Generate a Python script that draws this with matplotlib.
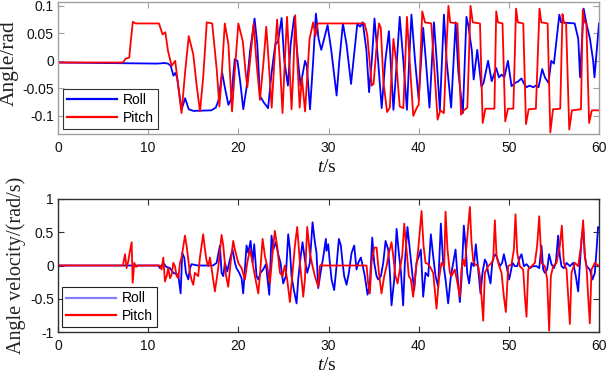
import matplotlib
matplotlib.use("Agg")
import matplotlib.pyplot as plt

plt.rcParams['font.family'] = ['Liberation Sans', 'DejaVu Sans']
plt.rcParams['mathtext.fontset'] = 'custom'
plt.rcParams['mathtext.it'] = 'Liberation Serif:italic'
plt.rcParams['mathtext.rm'] = 'Liberation Serif'

# ---------------- data (t [s], value) ----------------
roll_angle = [
    (0, -0.003), (6, -0.004), (11, -0.005), (11.8, -0.004), (12.2, -0.005), (12.5, -0.009),
    (12.8, -0.027), (13.0, -0.022), (13.2, -0.03), (13.7, -0.089), (14.1, -0.068), (14.5, -0.088),
    (15.0, -0.091), (17.0, -0.09), (17.5, -0.085), (17.8, -0.072), (18.2, -0.021), (18.5, -0.048),
    (18.9, -0.08), (19.2, -0.07), (19.6, 0.003), (19.9, 0.0), (20.2, -0.037), (20.55, -0.088),
    (20.9, -0.05), (21.3, 0.018), (21.8, 0.077), (22.1, 0.03), (22.4, -0.064), (22.8, -0.075),
    (23.3, -0.086), (23.7, -0.02), (24.1, 0.03), (24.4, 0.035), (24.8, 0.078), (25.1, 0.0),
    (25.5, -0.045), (25.8, 0.03), (26.2, 0.08), (26.5, 0.02), (26.9, -0.045), (27.4, 0.0),
    (27.6, -0.01), (27.95, -0.088), (28.3, 0.0), (28.6, 0.086), (28.9, 0.04), (29.2, 0.02),
    (29.9, 0.065), (30.3, 0.02), (30.9, -0.063), (31.2, 0.0), (31.6, 0.068), (32.0, 0.03),
    (32.5, -0.042), (32.9, 0.02), (33.2, 0.068), (33.5, 0.062), (33.8, 0.07), (34.2, 0.02),
    (34.5, -0.057), (34.8, 0.0), (35.1, 0.077), (35.5, 0.0), (35.9, -0.086), (36.3, 0.0),
    (36.7, 0.054), (37.0, -0.03), (37.2, -0.089), (37.5, -0.02), (37.9, 0.08), (38.3, 0.0),
    (38.7, -0.089), (39.0, 0.02), (39.2, 0.084), (39.6, 0.0), (40.0, -0.07), (40.5, 0.06),
    (40.8, 0.0), (41.2, -0.085), (41.7, 0.07), (42.0, 0.0), (42.35, -0.09), (42.8, 0.084),
    (43.1, 0.0), (43.6, -0.085), (44.1, 0.07), (44.4, -0.02), (44.9, -0.095), (45.3, 0.08),
    (45.5, 0.065), (45.9, 0.018), (46.1, -0.034), (46.5, 0.02), (46.96, -0.047), (47.2, -0.04),
    (47.7, 0.0), (48.1, -0.037), (48.6, -0.013), (48.9, -0.03), (49.2, -0.025), (49.5, -0.03),
    (49.9, 0.0), (50.3, -0.046), (50.7, -0.04), (51.0, -0.038), (51.4, -0.032), (51.7, -0.042),
    (51.96, -0.048), (52.3, -0.045), (52.7, -0.048), (53.0, -0.045), (53.3, -0.048), (53.7, -0.015),
    (54.0, -0.03), (54.4, -0.04), (54.7, 0.0), (55.0, -0.005), (55.6, 0.084), (55.8, 0.07),
    (57.3, 0.068), (57.7, 0.04), (57.9, -0.03), (58.3, 0.095), (58.6, 0.068), (59.0, 0.04),
    (59.35, 0.0), (59.5, -0.03), (59.7, 0.01), (60.0, 0.068),
]

pitch_angle = [
    (0, -0.003), (7.2, -0.003), (7.5, 0.004), (7.9, 0.006), (8.1, 0.04), (8.3, 0.071),
    (8.6, 0.068), (11.2, 0.068), (11.6, 0.048), (11.9, 0.052), (12.2, 0.018), (12.6, -0.009),
    (13.0, 0.0), (13.7, -0.095), (14.1, -0.02), (14.5, 0.045), (15.0, 0.012), (15.4, -0.048),
    (15.75, -0.092), (16.1, -0.03), (16.5, 0.07), (17.1, 0.068), (17.6, -0.015), (17.9, -0.083),
    (18.1, -0.04), (18.5, 0.068), (18.9, 0.03), (19.3, -0.092), (19.6, -0.02), (20.0, 0.068),
    (20.5, 0.035), (20.8, -0.02), (21.0, -0.048), (21.3, 0.0), (21.7, 0.068), (22.0, 0.0),
    (22.4, -0.071), (22.8, 0.0), (23.1, 0.062), (23.4, -0.01), (23.7, -0.085), (24.0, 0.0),
    (24.3, 0.075), (24.6, 0.0), (24.9, -0.095), (25.1, -0.02), (25.4, 0.08), (25.65, 0.0),
    (25.9, -0.088), (26.1, -0.02), (26.3, 0.083), (26.55, 0.0), (26.8, -0.085), (27.05, -0.03),
    (27.4, -0.092), (27.9, 0.04), (28.3, 0.07), (28.55, 0.045), (28.8, 0.068), (34.0, 0.068),
    (34.3, 0.047), (34.8, -0.045), (35.0, -0.042), (35.3, 0.02), (35.6, 0.068), (35.8, 0.06),
    (36.1, -0.04), (36.5, -0.093), (36.8, -0.085), (37.2, 0.04), (37.5, 0.0), (37.9, -0.083),
    (38.3, -0.086), (38.7, 0.08), (39.0, 0.0), (39.4, -0.1), (39.8, -0.085), (40.0, -0.08),
    (40.4, 0.09), (40.7, 0.07), (41.4, 0.068), (41.8, -0.03), (42.1, -0.107), (42.4, -0.09),
    (42.8, -0.095), (43.1, 0.03), (43.3, 0.1), (43.5, 0.07), (44.3, 0.068), (44.7, -0.098),
    (45.0, -0.09), (45.4, -0.085), (45.75, 0.1), (46.0, 0.07), (46.8, 0.068), (47.1, -0.113),
    (47.4, -0.087), (48.4, -0.087), (48.6, 0.09), (48.8, 0.07), (49.3, 0.068), (49.6, -0.11),
    (49.9, -0.087), (50.5, -0.087), (50.8, 0.095), (51.0, 0.07), (51.6, 0.068), (51.9, -0.115),
    (52.2, -0.088), (53.0, -0.087), (53.4, 0.095), (53.6, 0.07), (54.3, 0.068), (54.6, -0.13),
    (54.9, -0.088), (55.7, -0.087), (55.95, 0.085), (56.1, 0.07), (56.35, 0.068), (56.7, -0.125),
    (57.0, -0.09), (58.0, -0.088), (58.2, 0.093), (58.4, 0.07), (58.6, 0.068), (58.9, -0.113),
    (59.2, -0.09), (60.0, -0.09),
]

roll_rate = [
    (0, 0.0), (11.12, 0.0), (11.31, -0.04), (11.68, 0.04), (12.0, -0.02), (12.42, -0.04),
    (12.79, -0.11), (13.34, -0.14), (13.6, -0.42), (13.78, 0.19), (14.0, 0.12), (14.19, -0.11),
    (14.45, -0.21), (14.63, -0.04), (14.82, 0.02), (15.5, 0.0), (17.2, 0.0), (17.59, 0.04),
    (17.96, 0.3), (18.14, -0.11), (18.33, -0.16), (18.51, 0.04), (18.77, -0.09), (19.06, 0.09),
    (19.36, 0.24), (19.62, 0.04), (19.8, -0.04), (20.1, -0.11), (20.36, -0.19), (20.54, -0.42),
    (20.73, -0.06), (20.91, 0.3), (21.1, 0.19), (21.36, 0.37), (21.58, 0.04), (21.76, 0.32),
    (22.02, -0.16), (22.21, -0.21), (22.46, -0.11), (22.76, -0.06), (23.06, 0.02), (23.43, -0.44),
    (23.68, 0.45), (23.87, 0.24), (24.16, 0.35), (24.42, 0.17), (24.68, 0.04), (24.98, -0.27),
    (25.27, -0.16), (25.53, 0.47), (25.72, 0.24), (25.9, -0.16), (26.16, -0.37), (26.46, -0.57),
    (26.64, -0.21), (26.83, 0.04), (27.12, 0.35), (27.38, 0.09), (27.64, -0.11), (27.93, 0.04),
    (28.23, 0.65), (28.49, 0.35), (28.67, 0.19), (28.86, -0.34), (29.12, -0.11), (29.41, 0.12),
    (29.71, 0.4), (29.78, 0.22), (29.97, 0.32), (30.15, 0.04), (30.34, -0.21), (30.63, -0.37),
    (30.89, -0.01), (31.15, 0.4), (31.37, 0.3), (31.56, 0.04), (31.74, -0.16), (32.0, -0.29),
    (32.26, -0.11), (32.56, 0.19), (32.85, 0.3), (33.11, -0.06), (33.3, 0.04), (33.59, 0.12),
    (33.85, -0.04), (34.03, -0.16), (34.33, -0.44), (34.59, -0.27), (34.85, 0.42), (35.07, 0.04),
    (35.33, -0.16), (35.51, -0.21), (35.81, -0.16), (36.07, 0.04), (36.33, 0.37), (36.62, 0.24),
    (36.81, -0.11), (36.99, -0.6), (37.29, -0.21), (37.55, 0.55), (37.8, 0.19), (38.03, -0.09),
    (38.28, -0.6), (38.47, 0.04), (38.76, 0.58), (39.02, 0.24), (39.28, -0.11), (39.5, -0.37),
    (39.76, 0.04), (40.02, 0.14), (40.24, 0.24), (40.5, -0.47), (40.76, -0.11), (41.06, -0.16),
    (41.35, 0.47), (41.61, 0.14), (41.87, -0.16), (42.16, -0.32), (42.46, 0.63), (42.72, 0.04),
    (42.98, -0.21), (43.27, -0.57), (43.57, -0.16), (43.83, 0.04), (44.09, 0.24), (44.31, -0.16),
    (44.57, -0.55), (44.75, -0.21), (45.01, 0.6), (45.24, 0.24), (45.38, -0.11), (45.6, -0.27),
    (45.86, 0.04), (46.12, -0.01), (46.34, 0.32), (46.53, 0.04), (46.71, -0.21), (46.86, -0.42),
    (47.08, -0.11), (47.34, 0.09), (47.53, 0.04), (47.71, -0.11), (47.97, -0.27), (48.16, 0.04),
    (48.34, 0.14), (48.56, 0.17), (48.75, 0.09), (49.0, -0.01), (49.26, 0.04), (49.45, 0.17),
    (49.74, -0.01), (50.04, -0.21), (50.19, -0.11), (50.41, 0.04), (50.67, -0.01), (50.93, -0.01),
    (51.22, 0.12), (51.41, 0.17), (51.67, -0.01), (51.96, 0.02), (52.33, -0.04), (52.7, -0.01),
    (53.07, -0.01), (53.37, -0.04), (53.62, 0.3), (53.81, -0.06), (53.99, -0.11), (54.25, -0.06),
    (54.47, 0.17), (54.73, 0.02), (54.99, -0.04), (55.21, 0.04), (55.47, 0.45), (55.66, 0.14),
    (55.84, -0.01), (56.1, -0.04), (56.4, 0.04), (56.77, -0.01), (57.14, 0.04), (57.43, -0.16),
    (57.69, -0.39), (57.87, -0.01), (58.06, 0.4), (58.24, 0.58), (58.43, 0.14), (58.61, -0.01),
    (58.98, -0.06), (59.28, -0.21), (59.54, -0.11), (59.73, 0.24), (59.9, 0.58), (60.0, 0.55),
]

pitch_rate = [
    (0, 0.0), (7.2, 0.0), (7.43, 0.17), (7.61, -0.04), (7.8, 0.07), (7.98, 0.22), (8.17, 0.35),
    (8.28, -0.26), (8.46, 0.04), (8.65, -0.02), (8.9, 0.0), (11.3, 0.0), (11.49, -0.06),
    (11.68, 0.12), (11.86, -0.24), (12.05, -0.16), (12.23, -0.04), (12.42, -0.19), (12.6, -0.14),
    (12.79, 0.04), (12.97, -0.01), (13.16, -0.16), (13.34, -0.19), (13.53, 0.04), (13.71, 0.12),
    (14.08, 0.45), (14.26, 0.3), (14.45, 0.09), (14.63, -0.11), (14.82, -0.22), (15.0, -0.29),
    (15.18, -0.11), (15.55, -0.16), (15.74, 0.12), (16.1, 0.47), (16.3, 0.24), (16.48, 0.07),
    (16.66, -0.01), (16.85, 0.12), (17.03, -0.04), (17.4, -0.39), (17.77, -0.04), (18.14, 0.46),
    (18.33, 0.3), (18.62, -0.14), (18.88, -0.32), (19.14, 0.04), (19.43, 0.37), (19.62, 0.24),
    (19.99, 0.04), (20.36, -0.04), (20.73, -0.21), (20.99, 0.04), (21.28, 0.24), (21.47, 0.12),
    (21.84, -0.16), (22.21, -0.42), (22.39, -0.16), (22.69, 0.4), (22.95, 0.14), (23.2, -0.01),
    (23.5, -0.27), (23.8, 0.19), (24.05, 0.52), (24.31, 0.29), (24.61, -0.11), (24.9, -0.16),
    (25.16, 0.0), (25.42, -0.21), (25.72, -0.55), (26.01, -0.11), (26.27, 0.29), (26.53, 0.58),
    (26.83, 0.04), (27.2, -0.47), (27.38, -0.21), (27.64, 0.58), (27.93, 0.19), (28.23, -0.01),
    (28.49, -0.16), (28.86, -0.32), (29.04, -0.01), (29.23, 0.02), (29.4, 0.0), (34.22, 0.0),
    (34.4, -0.27), (34.59, -0.42), (34.77, 0.04), (35.07, 0.27), (35.33, 0.27), (35.59, -0.11),
    (35.88, -0.42), (36.18, -0.16), (36.44, -0.01), (36.7, 0.19), (36.99, 0.35), (37.18, 0.14),
    (37.43, -0.16), (37.66, -0.27), (37.91, -0.06), (38.17, 0.14), (38.4, 0.63), (38.65, 0.24),
    (38.91, -0.16), (39.13, -0.21), (39.39, -0.47), (39.65, -0.11), (39.95, 0.24), (40.32, 0.82),
    (40.54, 0.3), (40.76, 0.04), (41.06, 0.02), (41.35, -0.04), (41.61, -0.11), (41.98, -0.65),
    (42.24, -0.21), (42.53, 0.04), (42.83, -0.01), (42.98, 0.81), (43.2, 0.24), (43.46, -0.11),
    (43.64, -0.16), (44.01, -0.06), (44.31, -0.27), (44.57, -0.47), (44.75, -0.06), (44.94, 0.09),
    (45.12, -0.01), (45.31, 0.3), (45.68, 0.88), (45.86, 0.35), (46.05, 0.07), (46.23, 0.02),
    (46.6, -0.01), (46.79, -0.16), (46.97, -0.47), (47.16, -0.83), (47.34, -0.11), (47.71, -0.01),
    (48.08, 0.04), (48.27, 0.09), (48.45, 0.68), (48.64, 0.14), (48.93, -0.01), (49.19, -0.11),
    (49.45, -0.47), (49.67, -0.7), (49.93, -0.01), (50.3, 0.02), (50.56, 0.24), (50.74, 0.77),
    (50.93, 0.19), (51.22, -0.01), (51.59, -0.06), (51.78, -0.47), (51.96, -0.77), (52.15, -0.06),
    (52.52, -0.01), (52.89, 0.04), (53.14, 0.3), (53.37, 0.74), (53.62, 0.04), (53.99, -0.01),
    (54.25, -0.21), (54.47, -0.98), (54.66, -0.16), (54.92, -0.01), (55.29, 0.04), (55.66, 0.3),
    (55.88, 0.6), (56.1, 0.04), (56.4, -0.06), (56.58, -0.47), (56.77, -0.88), (56.95, -0.11),
    (57.32, 0.04), (57.69, -0.01), (58.06, 0.35), (58.24, 0.68), (58.43, 0.14), (58.61, -0.01),
    (58.8, -0.47), (58.98, -0.87), (59.17, -0.06), (59.54, 0.04), (60.0, -0.01),
]

x_ticks = [0, 10, 20, 30, 40, 50, 60]
angle_ticks = [-0.1, -0.05, 0, 0.05, 0.1]
angle_ticklabels = ['-0.1', '-0.05', '0', '0.05', '0.1']
rate_ticks = [-1, -0.5, 0, 0.5, 1]
rate_ticklabels = ['-1', '-0.5', '0', '0.5', '1']
series_labels = ['Roll', 'Pitch']

# ---------------- figure ----------------
W, H = 606, 374
fig = plt.figure(figsize=(W / 100, H / 100), dpi=100)

def px_axes(x0, y0, x1, y1):
    return fig.add_axes([x0 / W, 1 - y1 / H, (x1 - x0) / W, (y1 - y0) / H])

ax1 = px_axes(58, 2, 599, 134)
ax2 = px_axes(58, 199, 599, 332)

BLUE = '#0000ff'
RED = '#ff0000'

def style(ax, spine_color):
    for s in ax.spines.values():
        s.set_color(spine_color)
        s.set_linewidth(1.0)
    ax.tick_params(direction='in', top=True, right=True, length=4, width=0.8,
                   color=spine_color, labelsize=10, labelcolor='#111111')
    ax.tick_params(axis='x', pad=5)
    ax.tick_params(axis='y', pad=3)
    ax.set_xlim(0, 60)
    ax.set_xticks(x_ticks)
    ax.set_xticklabels([str(v) for v in x_ticks])

# top panel
ax1.plot([p[0] for p in roll_angle], [p[1] for p in roll_angle], color=BLUE, lw=1.3, label=series_labels[0])
ax1.plot([p[0] for p in pitch_angle], [p[1] for p in pitch_angle], color=RED, lw=1.3, label=series_labels[1])
style(ax1, '#a0a0a0')
ax1.set_ylim(-0.133, 0.107)
ax1.set_yticks(angle_ticks)
ax1.set_yticklabels(angle_ticklabels)
leg1 = ax1.legend(loc='lower left', bbox_to_anchor=(0.009, 0.038), borderaxespad=0,
                  fancybox=False, edgecolor='#333333', framealpha=1, fontsize=10,
                  handlelength=3.6, handletextpad=0.4, labelspacing=0.25, borderpad=0.3)
leg1.get_frame().set_linewidth(0.8)
for ln in leg1.get_lines():
    ln.set_linewidth(1.6)

# bottom panel
ax2.plot([p[0] for p in roll_rate], [p[1] for p in roll_rate], color=BLUE, lw=1.3, label=series_labels[0])
ax2.plot([p[0] for p in pitch_rate], [p[1] for p in pitch_rate], color=RED, lw=1.3, label=series_labels[1])
style(ax2, '#303030')
ax2.set_ylim(-1, 1)
ax2.set_yticks(rate_ticks)
ax2.set_yticklabels(rate_ticklabels)
leg2 = ax2.legend(loc='lower left', bbox_to_anchor=(0.007, 0.037), borderaxespad=0,
                  fancybox=False, edgecolor='#222222', framealpha=1, fontsize=10,
                  handlelength=3.6, handletextpad=0.4, labelspacing=0.25, borderpad=0.3)
leg2.get_frame().set_linewidth(0.8)
leg2.get_lines()[0].set_color('#8080ff')
for ln in leg2.get_lines():
    ln.set_linewidth(1.6)

# labels
serif = ['Liberation Serif', 'DejaVu Serif']
fig.text(9 / W, 1 - 63.5 / H, 'Angle/rad', rotation=90, ha='center', va='center',
         fontsize=15.5, family=serif, color='#222222')
fig.text(16 / W, 1 - 265 / H, 'Angle velocity/(rad/s)', rotation=90, ha='center', va='center',
         fontsize=14.5, family=serif, color='#222222')
fig.text(327 / W, 1 - 168 / H, r'$t$/s', ha='center', va='center', fontsize=14,
         family=serif, color='#111111')
fig.text(327 / W, 1 - 366 / H, r'$t$/s', ha='center', va='center', fontsize=14,
         family=serif, color='#111111')

fig.savefig('out.png', dpi=100)
